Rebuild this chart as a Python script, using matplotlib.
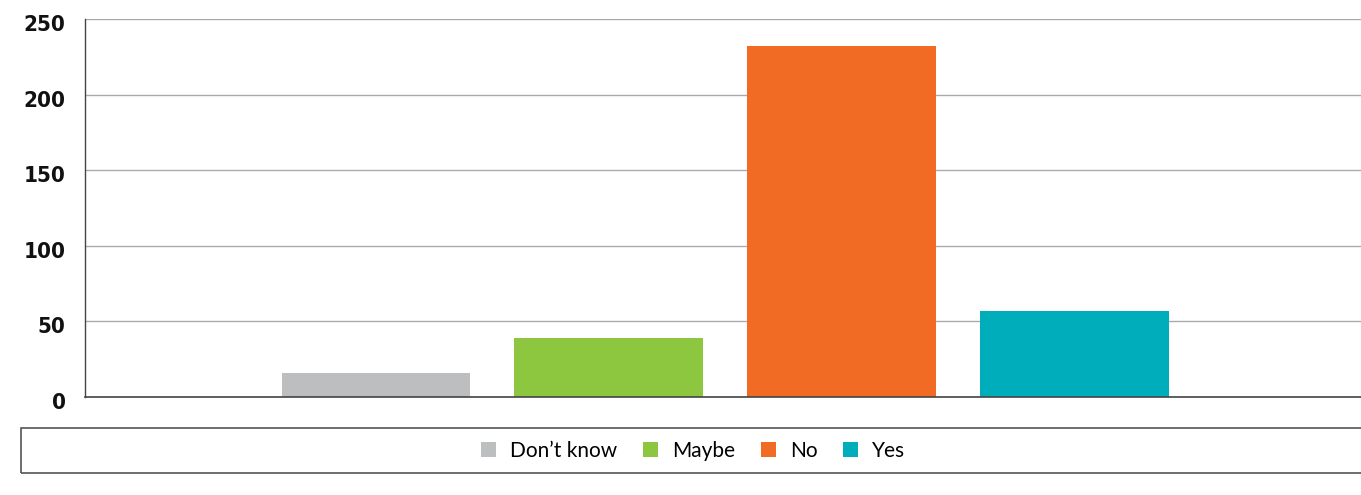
import matplotlib
matplotlib.use("Agg")
import matplotlib.pyplot as plt
from matplotlib.patches import Rectangle, Patch
from matplotlib.transforms import ScaledTranslation
from matplotlib import font_manager

# survey answers and counts
categories = ["Don\u2019t know", "Maybe", "No", "Yes"]
counts = [16, 39, 232, 57]
colors = ["#bdbec0", "#8dc63f", "#f26b25", "#00aebb"]
y_ticks = [0, 50, 100, 150, 200, 250]

installed = {f.name for f in font_manager.fontManager.ttflist}
tick_font = "Liberation Sans Narrow" if "Liberation Sans Narrow" in installed else "DejaVu Sans"

fig = plt.figure(figsize=(13.61, 4.95), dpi=100)
ax = fig.add_axes([85 / 1361, 98 / 495, 1276 / 1361, 378 / 495])

positions = list(range(len(categories)))
ax.bar(positions, counts, width=0.81, color=colors, zorder=2)

ax.set_xlim(-1.249, 4.23)
ax.set_ylim(0, 250)
ax.set_yticks(y_ticks)
ax.set_xticks([])
ax.yaxis.grid(True, color="#aaaaaa", linewidth=1.0, zorder=0)
ax.tick_params(axis="y", length=0, pad=14)
# labels sit a little below their gridlines in the original
shift = ScaledTranslation(0, -4 / 100, fig.dpi_scale_trans)
for lbl in ax.get_yticklabels():
    lbl.set_fontfamily(tick_font)
    lbl.set_fontstretch("condensed")
    lbl.set_fontweight("bold")
    lbl.set_fontsize(16)
    lbl.set_color("#111111")
    lbl.set_transform(lbl.get_transform() + shift)

for side in ["top", "right"]:
    ax.spines[side].set_visible(False)
ax.spines["left"].set_color("#444444")
ax.spines["bottom"].set_color("#444444")
ax.spines["left"].set_linewidth(1.0)
ax.spines["bottom"].set_linewidth(1.2)

# legend box spanning the width of the figure
fig.patches.append(Rectangle((21 / 1361, 22 / 495), 1.0, 45 / 495,
                             transform=fig.transFigure, fill=False,
                             edgecolor="#555555", linewidth=1.2))
handles = [Patch(facecolor=c, edgecolor="none") for c in colors]
fig.legend(handles, categories, loc="center", bbox_to_anchor=(693 / 1361, 44 / 495),
           ncol=4, frameon=False, handlelength=0.72, handleheight=0.72,
           handletextpad=0.67, columnspacing=1.25,
           prop={"family": "Lato", "size": 15})

plt.savefig("out.png", dpi=100)
plt.close()
